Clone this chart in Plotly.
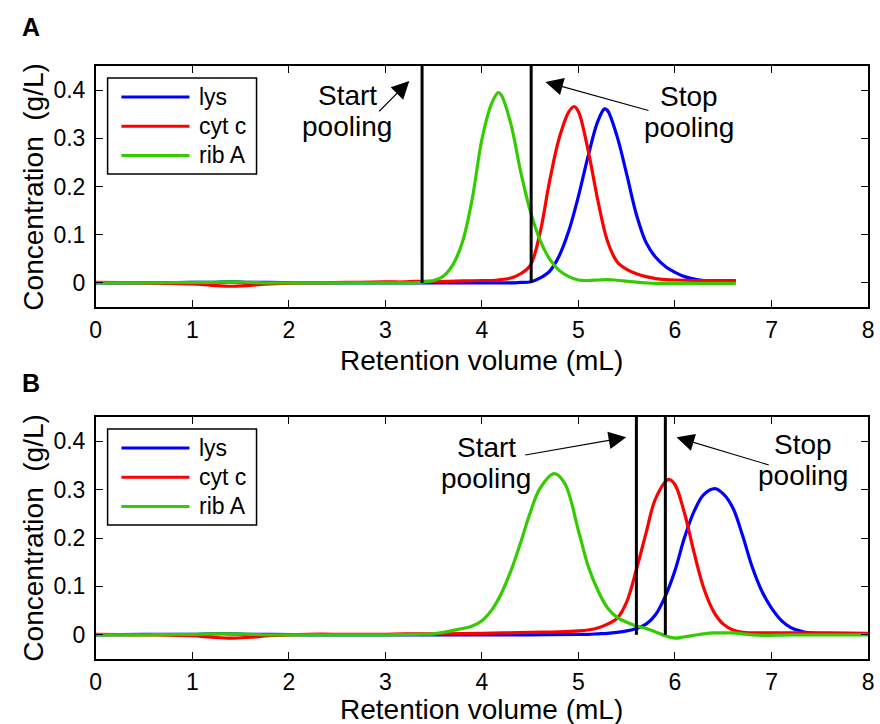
import plotly.graph_objects as go

W, H = 880, 724
FONT = "Liberation Sans, Arial, Helvetica, sans-serif"

# ---------------- Panel A: elution profiles (retention volume in mL, conc. in g/L) ----------------
base_a = [0, 0.5, 1.0, 1.2, 1.4, 1.6, 1.8, 2.2, 2.6, 3.0, 3.2, 3.3]

lys_a_x = base_a + [3.4, 3.6, 3.8, 4.0, 4.2, 4.3, 4.4, 4.5, 4.6, 4.7, 4.8, 4.9, 5.0,
                    5.1, 5.2, 5.27, 5.3, 5.4, 5.5, 5.6, 5.7, 5.8, 5.9, 6.0, 6.1, 6.2,
                    6.3, 6.4, 6.5, 6.63]
lys_a_y = [0, 0, 0.001, 0.001, 0.002, 0.001, 0.001, 0, 0, 0, 0, 0,
           0, 0, 0, 0, 0, 0, 0.001, 0.002, 0.010, 0.024, 0.056, 0.108, 0.180,
           0.263, 0.335, 0.361, 0.358, 0.304, 0.225, 0.142, 0.084, 0.053, 0.034, 0.022,
           0.013, 0.008, 0.005, 0.003, 0.003, 0.003]

cyt_a_x = base_a + [3.4, 3.6, 3.8, 4.0, 4.1, 4.2, 4.3, 4.4, 4.5, 4.6, 4.7, 4.8, 4.9,
                    4.955, 5.0, 5.1, 5.2, 5.3, 5.4, 5.5, 5.6, 5.7, 5.8, 5.9, 6.0, 6.2,
                    6.4, 6.63]
cyt_a_y = [0.001, 0, -0.002, -0.005, -0.007, -0.005, -0.002, 0, 0.001, 0.002, 0.002, 0.003,
           0.003, 0.003, 0.004, 0.005, 0.005, 0.007, 0.010, 0.019, 0.036, 0.102, 0.210,
           0.300, 0.355, 0.366, 0.355, 0.275, 0.172, 0.087, 0.044, 0.028, 0.019, 0.013,
           0.009, 0.007, 0.006, 0.005, 0.005, 0.005]

rib_a_x = base_a + [3.4, 3.5, 3.6, 3.7, 3.8, 3.9, 4.0, 4.1, 4.17, 4.2, 4.3, 4.4, 4.5,
                    4.6, 4.7, 4.8, 4.9, 5.0, 5.1, 5.2, 5.3, 5.4, 5.5, 5.6, 5.7, 5.8,
                    6.2, 6.63]
rib_a_y = [0, 0, 0.001, 0.001, 0.002, 0.001, 0, 0, 0, 0, 0, 0,
           0.002, 0.005, 0.014, 0.038, 0.086, 0.175, 0.298, 0.372, 0.395, 0.390, 0.330,
           0.232, 0.150, 0.090, 0.050, 0.026, 0.013, 0.006, 0.005, 0.006, 0.007, 0.0055,
           0.0035, 0.0015, 0, -0.001, -0.001, -0.001]

# pooling cut points (mL)
pool_a = [3.38, 4.51]

# ---------------- Panel B: elution profiles ----------------
base_b = [0, 0.5, 1.0, 1.2, 1.4, 1.6, 1.8, 2.2, 2.6, 3.0, 3.3]

lys_b_x = base_b + [3.6, 4.0, 4.5, 5.0, 5.1, 5.2, 5.3, 5.4, 5.5, 5.6, 5.7, 5.8, 5.9,
                    6.0, 6.1, 6.2, 6.3, 6.415, 6.5, 6.6, 6.7, 6.8, 6.9, 7.0, 7.1, 7.2,
                    7.3, 7.4, 7.5, 7.6, 7.8, 8.0]
lys_b_y = [0, 0.001, 0.001, 0.002, 0.002, 0.001, 0.001, 0, 0, 0, 0,
           0, 0, 0, 0.001, 0.001, 0.002, 0.003, 0.005, 0.008, 0.013, 0.022, 0.042,
           0.080, 0.133, 0.202, 0.256, 0.290, 0.302, 0.291, 0.262, 0.205, 0.140, 0.090,
           0.055, 0.030, 0.015, 0.008, 0.004, 0.003, 0.002, 0.001, 0.001]

cyt_b_x = base_b + [3.6, 4.0, 4.5, 4.8, 5.0, 5.1, 5.2, 5.3, 5.4, 5.5, 5.6, 5.7, 5.8,
                    5.935, 6.0, 6.1, 6.2, 6.3, 6.4, 6.5, 6.6, 6.7, 6.8, 7.2, 7.6, 8.0]
cyt_b_y = [0.001, 0, -0.002, -0.005, -0.007, -0.005, -0.002, 0.001, 0.001, 0.001, 0.002,
           0.002, 0.003, 0.005, 0.006, 0.008, 0.010, 0.014, 0.022, 0.034, 0.068, 0.135,
           0.210, 0.282, 0.321, 0.310, 0.250, 0.168, 0.095, 0.048, 0.022, 0.010, 0.005,
           0.004, 0.004, 0.004, 0.003]

rib_b_x = base_b + [3.5, 3.6, 3.7, 3.8, 3.9, 4.0, 4.1, 4.2, 4.3, 4.4, 4.5, 4.6, 4.75,
                    4.86, 5.0, 5.1, 5.2, 5.3, 5.4, 5.5, 5.6, 5.7, 5.8, 5.9, 6.0, 6.1,
                    6.2, 6.3, 6.4, 6.5, 6.6, 6.7, 6.8, 6.9, 7.2, 7.6, 8.0]
rib_b_y = [0, 0, 0.001, 0.002, 0.002, 0.001, 0, 0, 0, 0, 0.001,
           0.002, 0.005, 0.009, 0.013, 0.018, 0.029, 0.051, 0.085, 0.132, 0.190, 0.252,
           0.302, 0.333, 0.312, 0.215, 0.142, 0.092, 0.056, 0.036, 0.026, 0.018, 0.013,
           0.006, -0.002, -0.007, -0.004, -0.001, 0.002, 0.004, 0.004, 0.004, 0.002,
           0.000, -0.001, 0, 0, 0]

pool_b = [5.6, 5.9]

series_names = ["lys", "cyt c", "rib A"]
colors = ["#0000ff", "#ff0000", "#33cc00"]

x_ticks = [0, 1, 2, 3, 4, 5, 6, 7, 8]
y_ticks = [0, 0.1, 0.2, 0.3, 0.4]
y_tick_text = ["0", "0.1", "0.2", "0.3", "0.4"]

fig = go.Figure()

panels = [
    ("x", "y", [(lys_a_x, lys_a_y), (cyt_a_x, cyt_a_y), (rib_a_x, rib_a_y)]),
    ("x2", "y2", [(lys_b_x, lys_b_y), (cyt_b_x, cyt_b_y), (rib_b_x, rib_b_y)]),
]
for xa, ya, curves in panels:
    for (cx, cy), name, col in zip(curves, series_names, colors):
        fig.add_trace(go.Scatter(
            x=cx, y=cy, mode="lines", name=name, xaxis=xa, yaxis=ya,
            line=dict(color=col, width=3.2, shape="spline", smoothing=1.0),
            showlegend=False, hoverinfo="skip"))

# vertical pooling lines from baseline to top of axes
for xa, ya, cuts in [("x", "y", pool_a), ("x2", "y2", pool_b)]:
    for c in cuts:
        fig.add_shape(type="line", xref=xa, yref=ya, x0=c, x1=c, y0=0, y1=0.45,
                      line=dict(color="black", width=3))

x_dom = [91 / W, 874 / W]
dom_a = [1 - 307 / H, 1 - 66 / H]
dom_b = [1 - 659 / H, 1 - 417 / H]

axis_common = dict(
    showline=True, linecolor="black", linewidth=1.5, mirror="ticks",
    ticks="inside", ticklen=7, tickwidth=1.2, tickcolor="black",
    showgrid=False, zeroline=False,
    tickfont=dict(family=FONT, size=23, color="black"),
)
x_common = dict(range=[0, 8], tickvals=x_ticks, ticklabelstandoff=2,
                ticklabeloverflow="allow", **axis_common)
y_common = dict(range=[-0.05, 0.45], tickvals=y_ticks, ticktext=y_tick_text,
                ticklabelstandoff=4, **axis_common)
fig.update_layout(
    width=W, height=H,
    margin=dict(l=0, r=0, t=0, b=0),
    paper_bgcolor="white", plot_bgcolor="white",
    showlegend=False,
    xaxis=dict(domain=x_dom, anchor="y", **x_common),
    yaxis=dict(domain=dom_a, anchor="x", **y_common),
    xaxis2=dict(domain=x_dom, anchor="y2", **x_common),
    yaxis2=dict(domain=dom_b, anchor="x2", **y_common),
)

ann = []


def text_ann(x, y, s, size=28, xref="paper", yref="paper", xanchor="center",
             yanchor="middle", angle=0, bold=False):
    ann.append(dict(x=x, y=y, xref=xref, yref=yref, text=f"<b>{s}</b>" if bold else s,
                    showarrow=False, xanchor=xanchor, yanchor=yanchor, textangle=angle,
                    font=dict(family=FONT, size=size, color="black")))


# panel letters
text_ann(25.5 / W, 1 - 27 / H, "A", size=25, bold=True)
text_ann(25.5 / W, 1 - 383 / H, "B", size=25, bold=True)

# axis titles
for xt_y, yt_y in [(360, 187), (709, 538)]:
    text_ann(482.5 / W, 1 - xt_y / H, "Retention volume (mL)")
    text_ann(27 / W, 1 - yt_y / H, "Concentration\u00a0 (g/L)", angle=-90)

# pooling labels
labels = [
    ("x", "y", 2.605, 0.388, 0.324, "Start"),
    ("x", "y", 6.15, 0.387, 0.323, "Stop"),
    ("x2", "y2", 4.045, 0.387, 0.323, "Start"),
    ("x2", "y2", 7.33, 0.394, 0.330, "Stop"),
]
for xa, ya, lx, y1, y2, word in labels:
    text_ann(lx, y1, word, xref=xa, yref=ya)
    text_ann(lx, y2, "pooling", xref=xa, yref=ya)

# arrows: (head x, head y, tail x, tail y)
arrows = [
    ("x", "y", 3.248, 0.419, 2.921, 0.353),
    ("x", "y", 4.658, 0.417, 5.741, 0.357),
    ("x2", "y2", 5.495, 0.408, 4.433, 0.371),
    ("x2", "y2", 6.016, 0.408, 6.987, 0.350),
]
for xa, ya, hx, hy, tx, ty in arrows:
    ann.append(dict(x=hx, y=hy, xref=xa, yref=ya, ax=tx, ay=ty, axref=xa, ayref=ya,
                    text="", showarrow=True, arrowhead=2, arrowsize=3.2,
                    arrowwidth=1.1, arrowcolor="black", standoff=0, startstandoff=0))

# legend boxes
for top in (78, 429):
    fig.add_shape(type="rect", xref="paper", yref="paper",
                  x0=103 / W, x1=254 / W, y0=1 - (top + 96) / H, y1=1 - top / H,
                  line=dict(color="black", width=1.5), fillcolor="white", layer="above")
    for i, (name, col) in enumerate(zip(series_names, colors)):
        ry = top + 19 + i * 29.2
        fig.add_shape(type="line", xref="paper", yref="paper",
                      x0=117 / W, x1=186 / W, y0=1 - ry / H, y1=1 - ry / H,
                      line=dict(color=col, width=3), layer="above")
        text_ann(194 / W, 1 - ry / H, name, size=23, xanchor="left")

fig.update_layout(annotations=ann)
fig.write_html("out.html")
